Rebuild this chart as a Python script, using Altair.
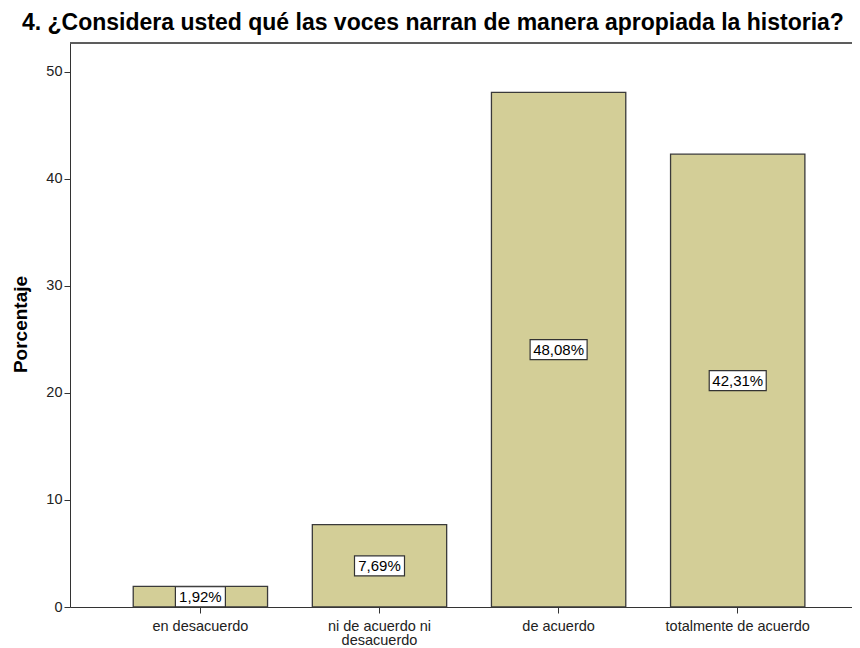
import altair as alt
import pandas as pd

categories = ["en desacuerdo", "ni de acuerdo ni desacuerdo", "de acuerdo", "totalmente de acuerdo"]
percent = [1.92, 7.69, 48.08, 42.31]
labels = ["1,92%", "7,69%", "48,08%", "42,31%"]
y_ticks = [0, 10, 20, 30, 40, 50]
title_text = "4. ¿Considera usted qué las voces narran de manera apropiada la historia?"

df = pd.DataFrame({"cat": categories, "pct": percent, "label": labels})

FONT = "Liberation Sans"

x_scale = alt.Scale(paddingInner=0.25, paddingOuter=0.308, align=0.573)
y_scale = alt.Scale(domain=[0, 52.7], nice=False, zero=True)

x_enc = alt.X(
    "cat:N",
    sort=categories,
    scale=x_scale,
    axis=alt.Axis(
        title=None,
        labelAngle=0,
        labelFont=FONT,
        labelFontSize=14.5,
        labelColor="#222222",
        labelLineHeight=14.5,
        labelPadding=6,
        labelExpr="datum.label == 'ni de acuerdo ni desacuerdo' ? ['ni de acuerdo ni', 'desacuerdo'] : datum.label",
        domainColor="#333333",
        tickColor="#333333",
        tickSize=6,
    ),
)

bars = alt.Chart(df).mark_bar(
    color="#D3CE97", stroke="#3a3a3a", strokeWidth=1.3
).encode(
    x=x_enc,
    y=alt.Y(
        "pct:Q",
        scale=y_scale,
        axis=alt.Axis(
            values=y_ticks,
            grid=False,
            title="Porcentaje",
            titleFont=FONT,
            titleFontSize=19,
            titleFontWeight="bold",
            titleColor="#000000",
            titleX=-50,
            titleY=281,
            titleAlign="center",
            titleBaseline="middle",
            labelFont=FONT,
            labelFontSize=14.5,
            labelColor="#222222",
            domainColor="#333333",
            tickColor="#333333",
            tickSize=6,
            labelPadding=2,
        ),
    ),
)

# top border of the plot frame (the right side runs off the page in the reference)
frame_top = alt.Chart(df).mark_rule(color="#555555", strokeWidth=1).encode(
    x=alt.value(0), x2=alt.value("width"), y=alt.value(0)
)

base_lbl = alt.Chart(df).transform_calculate(
    mid="datum.pct / 2",
    w="length(datum.label) * 7 + 15",
).transform_calculate(
    sz="datum.w * datum.w",
    shp="'M-1,-' + (20 / datum.w) + 'L1,-' + (20 / datum.w) + 'L1,' + (20 / datum.w) + 'L-1,' + (20 / datum.w) + 'Z'",
)

boxes = base_lbl.mark_point(
    filled=True, fill="white", stroke="#333333", strokeWidth=1.2, opacity=1
).encode(
    x=alt.X("cat:N", sort=categories, scale=x_scale),
    y=alt.Y("mid:Q", scale=y_scale),
    size=alt.Size("sz:Q", scale=None, legend=None),
    shape=alt.Shape("shp:N", scale=None, legend=None),
)

texts = base_lbl.mark_text(
    font=FONT, fontSize=15, color="#000000", baseline="middle", align="center"
).encode(
    x=alt.X("cat:N", sort=categories, scale=x_scale),
    y=alt.Y("mid:Q", scale=y_scale),
    text="label:N",
)

chart = alt.layer(bars, frame_top, boxes, texts).properties(
    width=782,
    height=564,
    autosize=alt.AutoSizeParams(type="none"),
    padding={"left": 62, "right": 0, "top": 35, "bottom": 41},
    title=alt.Title(
        title_text,
        anchor="start",
        frame="group",
        dx=-48,
        fontSize=23,
        font=FONT,
        fontWeight="bold",
        color="#000000",
        baseline="alphabetic",
        offset=-10,
    ),
).configure_view(
    stroke=None, fill="#F0F0F0"
).configure(background="white")

chart.save("out.html", embed_options={"renderer": "svg", "actions": False})
